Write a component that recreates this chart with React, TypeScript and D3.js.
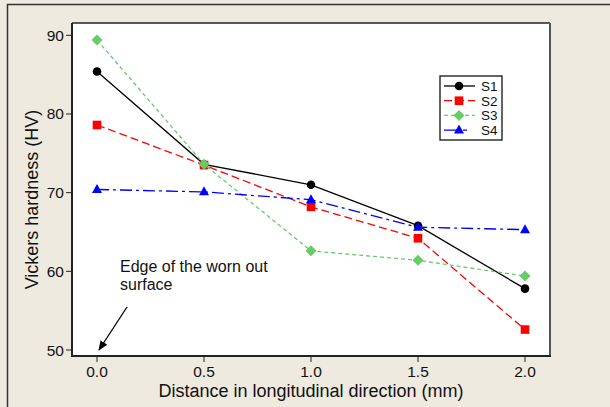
import React from "react";
import * as d3 from "d3";

const distances = [0, 0.5, 1.0, 1.5, 2.0];
const s1 = [85.4, 73.6, 71.0, 65.8, 57.8];
const s2 = [78.6, 73.5, 68.2, 64.2, 52.6];
const s3 = [89.4, 73.6, 62.6, 61.4, 59.4];
const s4 = [70.4, 70.1, 69.1, 65.6, 65.3];
const seriesNames = ["S1", "S2", "S3", "S4"];
const xTicks = [0, 0.5, 1.0, 1.5, 2.0];
const yTicks = [50, 60, 70, 80, 90];

const W = 610;
const H = 407;
const plot = { left: 72, top: 23, right: 550, bottom: 356 };
const FONT = "'Liberation Sans', Arial, Helvetica, sans-serif";

const series = [
  { name: seriesNames[0], values: s1, color: "#000000", dash: "none", marker: "circle" },
  { name: seriesNames[1], values: s2, color: "#ff0000", dash: "8,4", marker: "square" },
  { name: seriesNames[2], values: s3, color: "#66cc66", dash: "4,3", marker: "diamond" },
  { name: seriesNames[3], values: s4, color: "#0000ff", dash: "12,4,3,4", marker: "triangle" },
];

function Marker({ type, x, y, color }: { type: string; x: number; y: number; color: string }) {
  if (type === "circle") return <circle cx={x} cy={y} r={4.3} fill={color} />;
  if (type === "square") return <rect x={x - 4.3} y={y - 4.3} width={8.6} height={8.6} fill={color} />;
  if (type === "diamond")
    return <path d={`M${x},${y - 5.5}L${x + 5.5},${y}L${x},${y + 5.5}L${x - 5.5},${y}Z`} fill={color} />;
  return <path d={`M${x},${y - 5.5}L${x + 5},${y + 3.5}L${x - 5},${y + 3.5}Z`} fill={color} />;
}

export default function App() {
  const x = d3.scaleLinear().domain([0, 2]).range([97, 525]);
  const y = d3.scaleLinear().domain([50, 90]).range([350, 35.3]);
  const line = d3
    .line<[number, number]>()
    .x((d) => x(d[0]))
    .y((d) => y(d[1]));

  const legend = { x: 440, y: 76, w: 62, h: 64 };

  return (
    <svg width={W} height={H} style={{ position: "absolute", left: 0, top: 0 }}>
      <defs>
        <marker id="arrowhead" markerWidth="10" markerHeight="10" refX="9" refY="5" orient="auto" markerUnits="userSpaceOnUse">
          <path d="M0,1 L10,5 L0,9 Z" fill="#000" />
        </marker>
      </defs>
      <rect x={0} y={0} width={W} height={H} fill="#eeeae0" />
      <line x1={7} y1={4.5} x2={W} y2={4.5} stroke="#333" strokeWidth={1.5} />
      <line x1={7.5} y1={4} x2={7.5} y2={H} stroke="#333" strokeWidth={1.5} />

      {/* plot area */}
      <rect x={plot.left} y={plot.top} width={plot.right - plot.left} height={plot.bottom - plot.top} fill="#fff" />
      <line x1={plot.left} y1={plot.top} x2={plot.right} y2={plot.top} stroke="#222" strokeWidth={1.5} />
      <line x1={plot.right} y1={plot.top} x2={plot.right} y2={plot.bottom} stroke="#555" strokeWidth={2} />
      <line x1={plot.left} y1={plot.top} x2={plot.left} y2={plot.bottom + 1} stroke="#222" strokeWidth={2} />
      <line x1={plot.left} y1={plot.bottom} x2={plot.right + 1} y2={plot.bottom} stroke="#222" strokeWidth={2} />

      {/* y ticks */}
      {yTicks.map((t) => (
        <g key={`y${t}`}>
          <line x1={plot.left - 6} x2={plot.left} y1={y(t)} y2={y(t)} stroke="#222" strokeWidth={1} />
          <text x={plot.left - 8} y={y(t) + 5.5} textAnchor="end" fontFamily={FONT} fontSize={15.5} fill="#111">
            {t}
          </text>
        </g>
      ))}
      {/* x ticks */}
      {xTicks.map((t) => (
        <g key={`x${t}`}>
          <line x1={x(t)} x2={x(t)} y1={plot.bottom} y2={plot.bottom + 6} stroke="#222" strokeWidth={1} />
          <text x={x(t)} y={plot.bottom + 21} textAnchor="middle" fontFamily={FONT} fontSize={15.5} fill="#111">
            {d3.format(".1f")(t)}
          </text>
        </g>
      ))}

      <text x={311} y={397} textAnchor="middle" fontFamily={FONT} fontSize={18} fill="#111">
        Distance in longitudinal direction (mm)
      </text>
      <text
        transform={`translate(38,${(plot.top + plot.bottom) / 2 + 10}) rotate(-90)`}
        textAnchor="middle"
        fontFamily={FONT}
        fontSize={18}
        fill="#111"
      >
        Vickers hardness (HV)
      </text>

      {/* series */}
      {series.map((s) => (
        <g key={s.name}>
          <path
            d={line(distances.map((d, i) => [d, s.values[i]] as [number, number])) || ""}
            fill="none"
            stroke={s.color}
            strokeWidth={1.3}
            strokeDasharray={s.dash}
          />
          {distances.map((d, i) => (
            <Marker key={i} type={s.marker} x={x(d)} y={y(s.values[i])} color={s.color} />
          ))}
        </g>
      ))}

      {/* annotation */}
      <text x={120} y={271.5} fontFamily={FONT} fontSize={16} fill="#111">
        Edge of the worn out
      </text>
      <text x={120} y={289.5} fontFamily={FONT} fontSize={16} fill="#111">
        surface
      </text>
      <line x1={127} y1={307} x2={99} y2={350} stroke="#000" strokeWidth={1.3} markerEnd="url(#arrowhead)" />

      {/* legend */}
      <rect x={legend.x} y={legend.y} width={legend.w} height={legend.h} fill="#fff" stroke="#111" strokeWidth={1.3} />
      {series.map((s, i) => {
        const ly = legend.y + 10 + i * 14.7;
        return (
          <g key={`leg${s.name}`}>
            <line x1={444} x2={475} y1={ly} y2={ly} stroke={s.color} strokeWidth={1.3} strokeDasharray={s.dash === "12,4,3,4" ? "14,5,4" : s.dash} />
            <Marker type={s.marker} x={459} y={ly} color={s.color} />
            <text x={481} y={ly + 5} fontFamily={FONT} fontSize={13.5} fill="#111">
              {s.name}
            </text>
          </g>
        );
      })}
    </svg>
  );
}
